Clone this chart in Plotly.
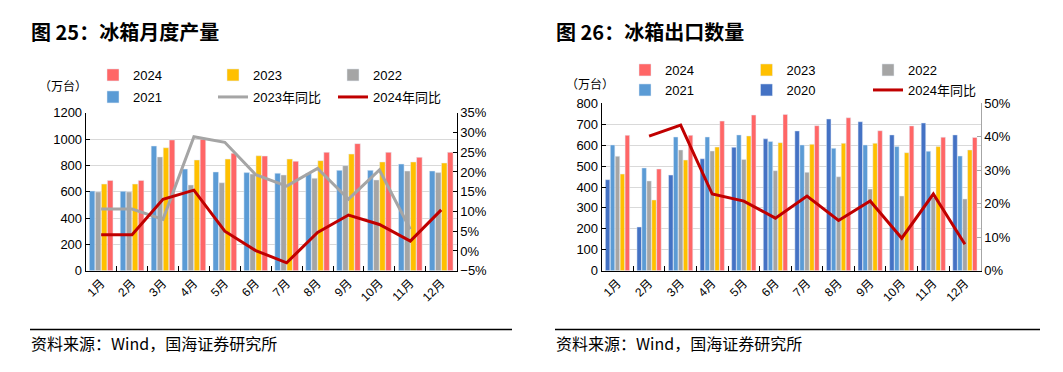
import plotly.graph_objects as go

# page body has an 8px margin: figure is drawn 8px smaller and coordinates shifted
OFF = 8
W, H = 1063 - OFF, 372 - OFF

months = ["1月", "2月", "3月", "4月", "5月", "6月", "7月", "8月", "9月", "10月", "11月", "12月"]

# 图25 冰箱月度产量（万台）
prod_2021 = [605, 603, 947, 772, 750, 745, 740, 740, 762, 762, 810, 757]
prod_2022 = [598, 598, 864, 651, 668, 734, 727, 702, 798, 689, 757, 745]
prod_2023 = [658, 658, 934, 841, 848, 873, 848, 836, 886, 826, 826, 818]
prod_2024 = [686, 686, 993, 998, 892, 871, 831, 899, 965, 899, 861, 899]
prod_yoy_2023 = [10.6, 10.6, 8.0, 28.9, 27.5, 19.3, 16.4, 20.9, 13.1, 20.5, 5.5, None]
prod_yoy_2024 = [4.1, 4.1, 13.1, 15.4, 5.0, 0.1, -3.0, 4.7, 9.1, 6.7, 2.5, 10.4]

# 图26 冰箱出口数量（万台）
exp_2020 = [435, 209, 457, 535, 590, 630, 668, 725, 712, 649, 706, 649]
exp_2021 = [601, 491, 639, 639, 649, 618, 601, 585, 601, 593, 571, 548]
exp_2022 = [547, 429, 577, 572, 532, 478, 470, 449, 390, 357, 350, 343]
exp_2023 = [462, 338, 529, 591, 644, 612, 604, 609, 609, 564, 593, 577]
exp_2024 = [647, 486, 647, 715, 744, 747, 693, 731, 669, 692, 638, 637]
exp_yoy_2024 = [None, 40.2, 43.5, 22.9, 20.8, 15.7, 22.3, 15.0, 20.8, 9.7, 22.9, 7.9]

C2024 = "#FF6666"
C2023 = "#FFC000"
C2022 = "#A5A5A5"
C2021 = "#5B9BD5"
C2020 = "#4472C4"
CRED = "#C00000"
CGRAY = "#A5A5A5"

FONT = "Liberation Sans, Arial, Noto Sans CJK SC"
CJK = "Noto Sans CJK SC"


def px(x):
    return (x - OFF) / W


def py(y):
    return (H - (y - OFF)) / H


fig = go.Figure()

# left chart bars
for name, vals, col, lg, rank in [
    ("2021", prod_2021, C2021, "legend2", 1),
    ("2022", prod_2022, C2022, "legend", 3),
    ("2023", prod_2023, C2023, "legend", 2),
    ("2024", prod_2024, C2024, "legend", 1),
]:
    fig.add_trace(go.Bar(x=months, y=vals, name=name, marker_color=col,
                         xaxis="x", yaxis="y", legend=lg, legendrank=rank))

fig.add_trace(go.Scatter(x=months, y=prod_yoy_2023, name="2023年同比", mode="lines",
                         line=dict(color=CGRAY, width=3), xaxis="x", yaxis="y2",
                         legend="legend2", legendrank=2))
fig.add_trace(go.Scatter(x=months, y=prod_yoy_2024, name="2024年同比", mode="lines",
                         line=dict(color=CRED, width=3), xaxis="x", yaxis="y2",
                         legend="legend2", legendrank=3))

# right chart bars
for name, vals, col, lg, rank in [
    ("2020", exp_2020, C2020, "legend4", 2),
    ("2021", exp_2021, C2021, "legend4", 1),
    ("2022", exp_2022, C2022, "legend3", 3),
    ("2023", exp_2023, C2023, "legend3", 2),
    ("2024", exp_2024, C2024, "legend3", 1),
]:
    fig.add_trace(go.Bar(x=months, y=vals, name=name, marker_color=col,
                         xaxis="x2", yaxis="y3", legend=lg, legendrank=rank))

fig.add_trace(go.Scatter(x=months, y=exp_yoy_2024, name="2024年同比", mode="lines",
                         line=dict(color=CRED, width=3), xaxis="x2", yaxis="y4",
                         legend="legend4", legendrank=3))

tickfont = dict(family=FONT, size=13, color="#000000")

xcommon = dict(type="category", showline=True, linecolor="#000000", linewidth=1,
               ticks="inside", tickson="boundaries", ticklen=5, tickcolor="#000000",
               tickangle=-45, tickfont=dict(family=FONT, size=12, color="#000000"),
               showgrid=False, fixedrange=True, automargin=False)

ycommon = dict(showline=True, linecolor="#000000", linewidth=1, ticks="inside",
               ticklen=4, tickcolor="#000000", tickfont=tickfont, zeroline=False,
               automargin=False)

legcommon = dict(orientation="h", xanchor="left", yanchor="middle",
                 entrywidth=75, entrywidthmode="pixels",
                 font=dict(family=FONT, size=13, color="#000000"),
                 bgcolor="rgba(0,0,0,0)", itemclick=False, tracegroupgap=0)

fig.update_layout(
    width=W, height=H,
    margin=dict(l=0, r=0, t=0, b=0, autoexpand=False),
    paper_bgcolor="#FFFFFF", plot_bgcolor="#FFFFFF",
    barmode="group", bargap=0.22, bargroupgap=0.08,
    xaxis=dict(domain=[px(85.7), px(456.7)], anchor="y", **xcommon),
    yaxis=dict(domain=[py(270.7), py(112.7)], anchor="x", range=[0, 1200], dtick=200,
               showgrid=True, gridcolor="#D9D9D9", gridwidth=1, **ycommon),
    yaxis2=dict(overlaying="y", side="right", anchor="x", range=[-5, 35], dtick=5,
                ticksuffix="%", showgrid=False, **ycommon),
    xaxis2=dict(domain=[px(601.7), px(980.7)], anchor="y3", **xcommon),
    yaxis3=dict(domain=[py(270.7), py(103.3)], anchor="x2", range=[0, 800], dtick=100,
                showgrid=True, gridcolor="#D9D9D9", gridwidth=1, **ycommon),
    yaxis4=dict(overlaying="y3", side="right", anchor="x2", range=[0, 50], dtick=10,
                ticksuffix="%", showgrid=False,
                **{**ycommon, "linecolor": "#A6A6A6", "tickcolor": "#A6A6A6"}),
    legend=dict(x=px(93), y=py(75), **legcommon),
    legend2=dict(x=px(93), y=py(97), **legcommon),
    legend3=dict(x=px(625), y=py(70), **{**legcommon, "entrywidth": 76.5}),
    legend4=dict(x=px(625), y=py(90), **{**legcommon, "entrywidth": 76.5}),
    showlegend=True,
)

annotations = [
    dict(text="<b>图 25：冰箱月度产量</b>", x=px(29), y=py(32), xanchor="left", yanchor="middle",
         font=dict(family=CJK, size=20, color="#000000")),
    dict(text="<b>图 26：冰箱出口数量</b>", x=px(554), y=py(32), xanchor="left", yanchor="middle",
         font=dict(family=CJK, size=20, color="#000000")),
    dict(text="（万台）", x=px(37), y=py(85), xanchor="left", yanchor="middle",
         font=dict(family=CJK, size=12, color="#000000")),
    dict(text="（万台）", x=px(564), y=py(83), xanchor="left", yanchor="middle",
         font=dict(family=CJK, size=12, color="#000000")),
    dict(text="资料来源：Wind，国海证券研究所", x=px(29), y=py(343), xanchor="left", yanchor="middle",
         font=dict(family=CJK, size=16, color="#000000")),
    dict(text="资料来源：Wind，国海证券研究所", x=px(554), y=py(343), xanchor="left", yanchor="middle",
         font=dict(family=CJK, size=16, color="#000000")),
]
for a in annotations:
    a.update(xref="paper", yref="paper", showarrow=False)
fig.update_layout(annotations=annotations)

fig.update_layout(shapes=[
    dict(type="line", xref="paper", yref="paper", x0=px(30), x1=px(512), y0=py(329.5), y1=py(329.5),
         line=dict(color="#000000", width=1.5)),
    dict(type="line", xref="paper", yref="paper", x0=px(555), x1=px(1040), y0=py(329.5), y1=py(329.5),
         line=dict(color="#000000", width=1.5)),
])

fig.write_html("out.html")
